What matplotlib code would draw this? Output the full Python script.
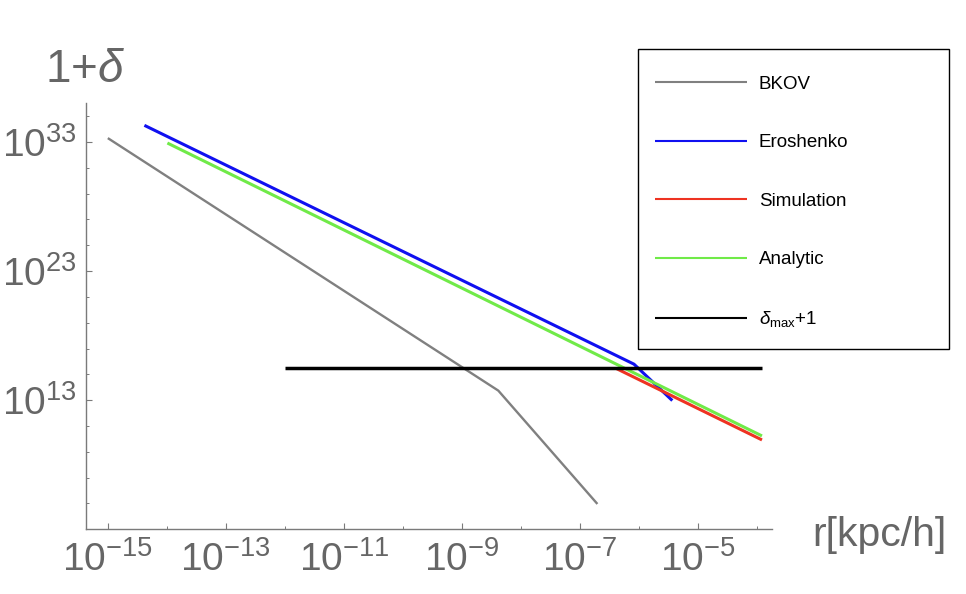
import matplotlib
matplotlib.use('Agg')
import matplotlib.pyplot as plt
import matplotlib.ticker as ticker
from matplotlib.patches import Rectangle
import numpy

# Values (log10 of r and of 1+delta)
bkov_logr = [-15.0, -8.38, -6.70]
bkov_logd = [33.30, 13.74, 4.96]

ero_logr = [-14.38, -6.08, -5.43]
ero_logd = [34.29, 15.79, 12.97]

sim_logr = [-6.37, -3.91]
sim_logd = [15.43, 9.92]

ana_logr = [-13.99, -3.91]
ana_logd = [32.92, 10.23]

dmax_logr = [-12.0, -3.91]
dmax_logd = [15.53, 15.53]

labels = ['BKOV', 'Eroshenko', 'Simulation', 'Analytic', r'$\delta_{\mathrm{max}}$+1']
colors = ['#808080', '#1010f0', '#ee3322', '#70ea48', '#000000']

xmajor = [-15, -13, -11, -9, -7, -5]
ymajor = [13, 23, 33]

plt.rcParams['font.family'] = ['Liberation Sans', 'DejaVu Sans']
plt.rcParams['mathtext.fontset'] = 'custom'
plt.rcParams['mathtext.rm'] = 'Liberation Sans'
plt.rcParams['mathtext.it'] = 'Liberation Sans:italic'
plt.rcParams['mathtext.bf'] = 'Liberation Sans:bold'

axis_gray = '#7a7a7a'
text_gray = '#666666'

W = 966.0
H = 594.0

fig = plt.figure(figsize = (W/100, H/100), dpi = 100)
ax = fig.add_axes([86/W, 1 - 529/H, (772 - 86)/W, (529 - 103)/H])

series = [(bkov_logr, bkov_logd, 1.7), (ero_logr, ero_logd, 2.2), (sim_logr, sim_logd, 2.2),
          (ana_logr, ana_logd, 2.2), (dmax_logr, dmax_logd, 2.5)]
handles = []
for (lr, ld, lw), c, lab in zip(series, colors, labels):
    h, = ax.plot(numpy.power(10.0, lr), numpy.power(10.0, ld), color = c, linewidth = lw,
                 solid_capstyle = 'butt', label = lab)
    handles.append(h)

ax.set_xscale('log')
ax.set_yscale('log')
ax.set_xlim(10**-15.37, 10**-3.74)
ax.set_ylim(10**3.02, 10**36.02)

for s in ['top', 'right']:
    ax.spines[s].set_visible(False)
for s in ['left', 'bottom']:
    ax.spines[s].set_color(axis_gray)
    ax.spines[s].set_linewidth(1.0)

def fmt(v, pos):
    e = int(round(numpy.log10(v)))
    return r'$\mathregular{10^{%d}}$' % e

ax.xaxis.set_major_locator(ticker.FixedLocator([10.0**e for e in xmajor]))
ax.xaxis.set_minor_locator(ticker.FixedLocator([10.0**e for e in range(-14, -3, 2)]))
ax.yaxis.set_major_locator(ticker.FixedLocator([10.0**e for e in ymajor]))
ax.yaxis.set_minor_locator(ticker.FixedLocator([10.0**e for e in range(5, 36, 2)]))
ax.xaxis.set_major_formatter(ticker.FuncFormatter(fmt))
ax.yaxis.set_major_formatter(ticker.FuncFormatter(fmt))
ax.xaxis.set_minor_formatter(ticker.NullFormatter())
ax.yaxis.set_minor_formatter(ticker.NullFormatter())

ax.tick_params(which = 'major', direction = 'in', length = 4.5, width = 0.8, color = axis_gray,
               labelsize = 28, labelcolor = text_gray, pad = 7)
ax.tick_params(axis = 'x', which = 'major', pad = 9)
ax.tick_params(which = 'minor', direction = 'in', length = 2.5, width = 0.7, color = axis_gray)

fig.text(45/W, 1 - 82/H, r'1+$\mathit{\delta}$', fontsize = 33, color = text_gray,
         ha = 'left', va = 'baseline')
fig.text(812/W, 1 - 546/H, 'r[kpc/h]', fontsize = 29.5, color = text_gray,
         ha = 'left', va = 'baseline')

# legend entries without frame, frame drawn as its own box
leg = fig.legend(handles = handles, loc = 'upper left',
                 bbox_to_anchor = (638/W, 1 - 59/H),
                 borderaxespad = 0, fontsize = 13.5, handlelength = 4.9,
                 handletextpad = 0.65, labelspacing = 2.2, borderpad = 0.9,
                 frameon = False)
for lh in leg.get_lines():
    lh.set_linewidth(1.5)

fig.patches.append(Rectangle((638/W, 1 - 349/H), (949 - 638)/W, (349 - 49)/H,
                             transform = fig.transFigure, fill = False,
                             edgecolor = 'black', linewidth = 1.0))

fig.savefig('out.png', dpi = 100)
